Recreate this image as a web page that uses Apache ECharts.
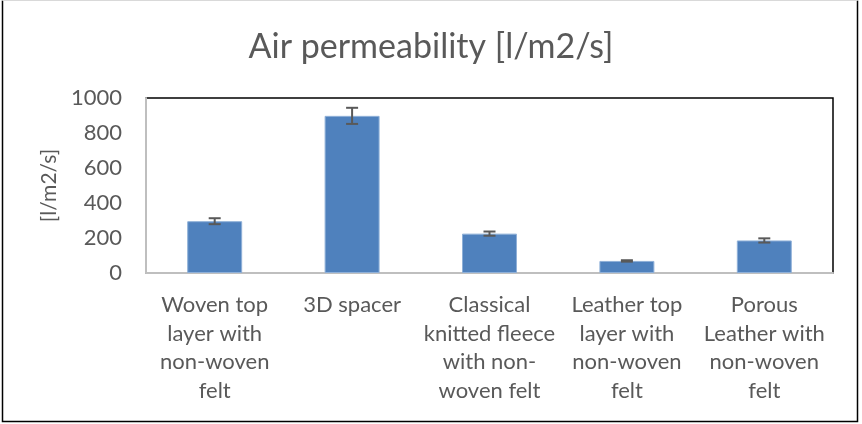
<!DOCTYPE html>
<html>
<head>
<meta charset="utf-8">
<script src="https://cdn.jsdelivr.net/npm/echarts@6/dist/echarts.min.js"></script>
<style>
  html, body { margin: 0; padding: 0; background: #fff; }
  #chart { width: 862px; height: 424px; }
</style>
</head>
<body>
<div id="chart"></div>
<script>
const categories = [
  'Woven top\nlayer with\nnon-woven\nfelt',
  '3D spacer',
  'Classical\nknitted fleece\nwith non-\nwoven felt',
  'Leather top\nlayer with\nnon-woven\nfelt',
  'Porous\nLeather with\nnon-woven\nfelt'
]
const values = [296, 898, 225, 69, 186]
const errors = [17, 46, 12, 4, 12]
const yTicks = [0, 200, 400, 600, 800, 1000]

const font = 'Lato, "Open Sans", sans-serif'
const chart = echarts.init(document.getElementById('chart'))
chart.setOption({
  animation: false,
  title: {
    text: 'Air permeability [l/m2/s]',
    left: 'center',
    top: 25,
    textStyle: { fontFamily: font, fontSize: 34, fontWeight: 'normal', color: '#595959' }
  },
  grid: {
    left: 146, right: 29, top: 98, bottom: 151,
    show: true,
    borderColor: '#000',
    borderWidth: 1.5
  },
  xAxis: {
    type: 'category',
    data: categories,
    axisLine: { show: true, lineStyle: { color: '#bfbfbf', width: 2 } },
    axisTick: { show: false },
    axisLabel: {
      interval: 0,
      margin: 18,
      fontFamily: font, fontSize: 22, color: '#595959', lineHeight: 28.5
    }
  },
  yAxis: {
    type: 'value',
    min: 0,
    max: yTicks[yTicks.length - 1],
    interval: 200,
    name: '[l/m2/s]',
    nameLocation: 'middle',
    nameGap: 79,
    nameTextStyle: { fontFamily: font, fontSize: 21, color: '#595959' },
    splitLine: { show: false },
    axisLine: { show: true, lineStyle: { color: '#bfbfbf', width: 2 } },
    axisTick: { show: false },
    axisLabel: {
      margin: 24, fontFamily: font, fontSize: 22, color: '#595959',
      formatter: v => String(v)
    }
  },
  series: [
    {
      type: 'bar',
      data: values,
      barWidth: '40%',
      itemStyle: { color: '#4f81bd', borderColor: '#8fb0d8', borderWidth: 1 }
    },
    {
      type: 'custom',
      data: values.map((v, i) => [i, v - errors[i], v + errors[i]]),
      z: 5,
      renderItem(params, api) {
        const lo = api.coord([api.value(0), api.value(1)])
        const hi = api.coord([api.value(0), api.value(2)])
        const w = 6
        const style = { stroke: '#595959', lineWidth: 2, fill: null }
        return {
          type: 'group',
          children: [
            { type: 'line', shape: { x1: hi[0], y1: hi[1], x2: lo[0], y2: lo[1] }, style },
            { type: 'line', shape: { x1: hi[0] - w, y1: hi[1], x2: hi[0] + w, y2: hi[1] }, style },
            { type: 'line', shape: { x1: lo[0] - w, y1: lo[1], x2: lo[0] + w, y2: lo[1] }, style }
          ]
        }
      }
    }
  ],
  graphic: [
    {
      type: 'polyline',
      shape: { points: [[2.5, 0.5], [2.5, 421.5], [857.5, 421.5], [857.5, 0.5]] },
      style: { stroke: '#000', lineWidth: 1.5, fill: null }
    },
    {
      type: 'line',
      shape: { x1: 2.5, y1: 0.5, x2: 857.5, y2: 0.5 },
      style: { stroke: '#d9d9d9', lineWidth: 1 }
    }
  ]
})
</script>
</body>
</html>
